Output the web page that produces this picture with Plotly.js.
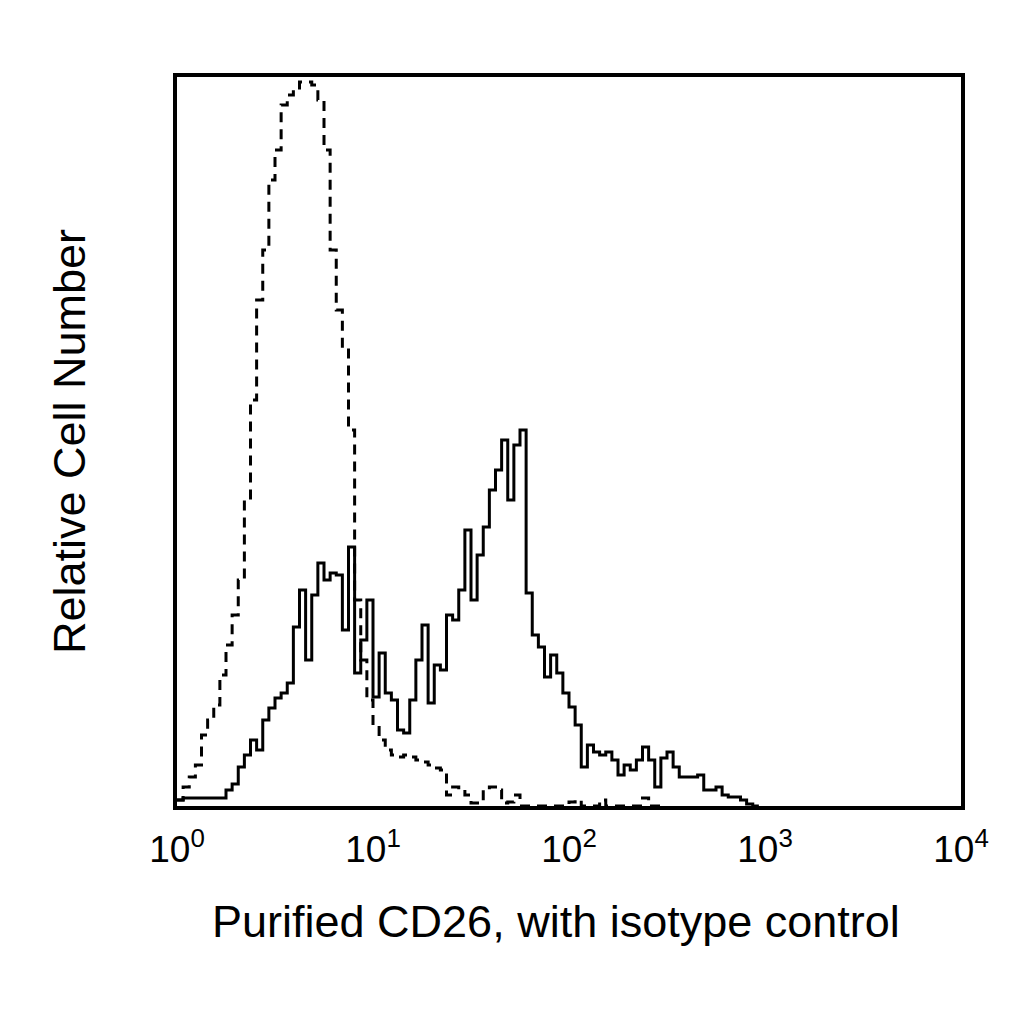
<!DOCTYPE html>
<html>
<head>
<meta charset="utf-8">
<script src="https://cdn.plot.ly/plotly-3.0.1.min.js"></script>
<style>
  html, body { margin: 0; padding: 0; background: #fff; }
  #myDiv { width: 1024px; height: 1024px; }
</style>
</head>
<body>
<div id="myDiv"></div>
<script>
// channels per decade of the log scale (fluorescence intensity)
const channelsPerDecade = 32;

// Purified CD26 (solid line), counts per channel starting at 10^0
const cd26Counts = [
    6, 8, 8, 8, 8, 8, 8, 8, 16, 22,
    39, 51, 66, 56, 86, 98, 108, 113, 123, 179,
    216, 146, 211, 243, 226, 233, 231, 176, 259, 133,
    166, 206, 109, 153, 113, 106, 76, 73, 106, 146,
    181, 103, 141, 136, 191, 186, 216, 276, 206, 251,
    279, 316, 336, 366, 306, 361, 376, 213, 171, 159,
    129, 151, 133, 113, 99, 81, 39, 61, 54, 51,
    54, 46, 31, 41, 36, 46, 59, 46, 19, 48,
    54, 39, 29, 29, 29, 31, 16, 16, 19, 11,
    9, 9, 6, 2, 0, 0
];

// isotype control (dashed line), counts per channel starting at 10^0
const isotypeCounts = [
    6, 19, 29, 41, 71, 86, 101, 131, 161, 191,
    226, 306, 406, 506, 556, 626, 656, 701, 711, 716,
    724, 724, 721, 706, 656, 556, 496, 456, 376, 206,
    146, 106, 81, 66, 56, 51, 49, 51, 49, 46,
    44, 41, 38, 36, 11, 19, 16, 11, 3, 3,
    16, 19, 16, 3, 4, 11, 0, 0, 0, 0,
    0, 0, 0, 0, 4, 6, 0, 0, 0, 6,
    0, 0, 0, 0, 0, 0, 8, 0, 0, 0, 0
];

const tickVals = [1, 10, 100, 1000, 10000];
const tickText = ['10<sup>0</sup>', '10<sup>1</sup>', '10<sup>2</sup>', '10<sup>3</sup>', '10<sup>4</sup>'];

const xTitle = 'Purified CD26, with isotype control';
const yTitle = 'Relative Cell Number';

// channel index -> intensity
function channelX(counts) {
    return counts.map((c, i) => Math.pow(10, i / channelsPerDecade));
}

const isotype = {
    x: channelX(isotypeCounts),
    y: isotypeCounts,
    mode: 'lines',
    line: { color: '#000', width: 3, shape: 'hv', dash: '10px,7px' },
    type: 'scatter',
    hoverinfo: 'none'
};

const cd26 = {
    x: channelX(cd26Counts),
    y: cd26Counts,
    mode: 'lines',
    line: { color: '#000', width: 3, shape: 'hv' },
    type: 'scatter',
    hoverinfo: 'none'
};

const layout = {
    width: 1024,
    height: 1024,
    margin: { l: 177, r: 63, t: 77, b: 218 },
    paper_bgcolor: '#fff',
    plot_bgcolor: '#fff',
    showlegend: false,
    font: { family: 'Liberation Sans, Arial, sans-serif', color: '#000' },
    xaxis: {
        type: 'log',
        range: [0, 4],
        tickmode: 'array',
        tickvals: tickVals,
        ticktext: tickText,
        ticks: '',
        ticklabelstandoff: 8,
        tickfont: { size: 37 },
        showgrid: false,
        zeroline: false,
        showline: true,
        linewidth: 4,
        linecolor: '#000',
        mirror: true
    },
    yaxis: {
        range: [0, 729],
        showticklabels: false,
        ticks: '',
        showgrid: false,
        zeroline: false,
        showline: true,
        linewidth: 4,
        linecolor: '#000',
        mirror: true,
        title: { text: yTitle, font: { size: 45 }, standoff: 74 }
    },
    // x title sits a little left of the plot centre in the original
    annotations: [{
        text: xTitle,
        xref: 'paper',
        yref: 'paper',
        x: 0.483,
        y: 0,
        xanchor: 'center',
        yanchor: 'middle',
        yshift: -115,
        showarrow: false,
        font: { size: 45 }
    }]
};

Plotly.newPlot('myDiv', [isotype, cd26], layout, { staticPlot: true });
</script>
</body>
</html>
